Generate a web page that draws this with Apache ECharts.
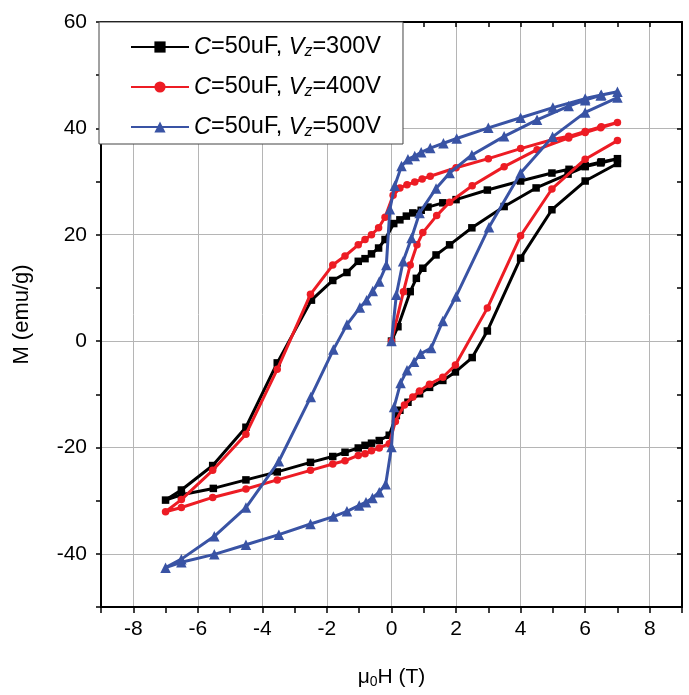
<!DOCTYPE html>
<html>
<head>
<meta charset="utf-8">
<script src="https://cdn.jsdelivr.net/npm/echarts@6/dist/echarts.min.js"></script>
<style>
html,body{margin:0;padding:0;background:#fff;}
#chart{width:689px;height:695px;}
</style>
</head>
<body>
<div id="chart"></div>
<script>
// Tick values / labels
const xTickLabels = [-8, -6, -4, -2, 0, 2, 4, 6, 8];
const yTickLabels = [-40, -20, 0, 20, 40, 60];
const voltages = ['300V', '400V', '500V'];

// C=50uF, Vz=300V  (virgin -> descending -> ascending), [H (T), M (emu/g)]
const data300 = [
  [0,0],[0.2,2.7],[0.58,9.3],[0.77,11.8],[0.97,13.7],[1.38,16.2],[1.8,18.1],[2.49,21.3],[3.49,25.3],[4.48,28.8],[5.47,31.4],[6.0,32.8],[6.48,33.5],[7.0,34.3],
  [6.5,33.7],[6.0,33.0],[5.5,32.3],[4.97,31.6],[4.0,30.1],[2.97,28.4],[2.0,26.6],[1.59,26.0],[1.13,25.2],[0.92,24.6],[0.66,24.1],[0.46,23.5],[0.26,22.8],[0.07,22.1],
  [-0.2,19.1],[-0.4,17.5],[-0.62,16.4],[-0.82,15.5],[-1.03,15.0],[-1.38,12.9],[-1.82,11.4],[-2.48,7.7],[-3.54,-4.1],[-4.51,-16.2],[-5.54,-23.4],[-6.51,-28.0],[-7.0,-29.9],
  [-6.51,-28.9],[-5.52,-27.7],[-4.51,-26.1],[-3.54,-24.6],[-2.51,-22.8],[-1.82,-21.7],[-1.44,-20.9],[-1.03,-20.1],[-0.82,-19.6],[-0.62,-19.2],[-0.38,-18.7],[-0.07,-17.7],
  [0.15,-14.0],[0.26,-13.0],[0.51,-11.5],[0.87,-9.9],[1.18,-8.7],[1.59,-7.4],[1.98,-5.8],[2.5,-3.1],[2.97,1.9],[4.0,15.6],[4.97,24.7],[6.0,30.1],[7.0,33.4]
];

// C=50uF, Vz=400V
const data400 = [
  [0,0],[0.37,9.3],[0.58,14.3],[0.79,18.1],[0.97,20.4],[1.4,23.6],[1.8,26.1],[2.5,29.2],[3.49,32.8],[4.51,36.0],[5.49,38.2],[6.0,39.2],[6.48,40.1],[7.0,41.1],
  [6.5,40.3],[6.0,39.4],[5.49,38.5],[5.0,37.9],[4.0,36.2],[3.0,34.3],[2.0,32.6],[1.2,31.0],[0.95,30.5],[0.72,29.9],[0.48,29.4],[0.26,28.8],[0.05,27.4],
  [-0.2,23.3],[-0.4,21.3],[-0.62,20.0],[-0.82,19.1],[-1.03,18.1],[-1.44,16.0],[-1.82,14.3],[-2.51,8.8],[-3.54,-5.3],[-4.51,-17.5],[-5.54,-24.3],[-6.51,-29.8],[-7.0,-32.1],
  [-6.51,-31.3],[-5.54,-29.4],[-4.51,-27.8],[-3.54,-26.1],[-2.51,-24.3],[-1.82,-23.1],[-1.44,-22.5],[-1.03,-21.5],[-0.82,-21.2],[-0.62,-20.6],[-0.38,-20.1],[-0.07,-19.3],
  [0.12,-15.1],[0.4,-12.0],[0.66,-10.5],[0.87,-9.4],[1.18,-8.1],[1.59,-6.8],[1.98,-4.5],[2.97,6.2],[4.0,19.8],[4.97,28.6],[6.0,34.2],[7.0,37.7]
];

// C=50uF, Vz=500V
const data500 = [
  [0,0],[0.15,8.7],[0.36,15.0],[0.62,19.4],[0.87,24.1],[1.38,28.7],[1.8,31.6],[2.49,35.0],[3.49,38.5],[4.51,41.6],[5.49,44.2],[6.0,45.3],[6.48,46.2],[7.0,46.9],
  [6.5,46.3],[6.0,45.6],[5.0,43.9],[4.0,42.0],[3.0,40.1],[2.02,38.1],[1.61,37.2],[1.2,36.3],[0.92,35.5],[0.72,34.8],[0.51,34.2],[0.31,32.9],[0.1,29.2],
  [-0.05,24.8],[-0.16,14.3],[-0.38,11.2],[-0.58,9.4],[-0.77,7.7],[-0.98,6.3],[-1.38,3.1],[-1.8,-1.6],[-2.5,-10.5],[-3.49,-22.6],[-4.51,-31.3],[-5.49,-36.7],[-6.51,-41.0],[-7.0,-42.6],
  [-6.51,-41.6],[-5.49,-40.1],[-4.51,-38.3],[-3.49,-36.4],[-2.51,-34.4],[-1.8,-33.0],[-1.38,-32.0],[-1.0,-30.9],[-0.79,-30.3],[-0.59,-29.5],[-0.38,-28.4],[-0.18,-26.9],
  [0.0,-19.9],[0.08,-12.4],[0.28,-7.9],[0.48,-5.5],[0.7,-3.9],[0.9,-2.4],[1.23,-1.3],[1.59,3.8],[2.0,8.4],[3.02,21.4],[4.0,31.6],[4.99,38.4],[6.0,43.0],[7.0,45.8]
];

const FONT = '"Liberation Sans", Arial, sans-serif';
const colors = ['#000000', '#ed1c24', '#3953a4'];
const symbols = ['rect', 'circle', 'triangle'];
const symbolSizes = [7.5, 7.5, 10.5];
const datasets = [data300, data400, data500];
const names = voltages.map(v => 'C=50uF, Vz=' + v);

const chart = echarts.init(document.getElementById('chart'), null, {renderer: 'canvas'});

const gridColor = ['rgba(0,0,0,0)', '#b5b5b5'];

const option = {
  animation: false,
  backgroundColor: '#ffffff',
  grid: {left: 101, right: 7, top: 22, bottom: 88, containLabel: false},
  legend: {
    orient: 'vertical',
    left: 99, top: 22,
    padding: [13, 22, 4, 31],
    itemGap: 15,
    itemWidth: 58,
    itemHeight: 14,
    borderColor: '#444',
    borderWidth: 1,
    backgroundColor: '#ffffff',
    data: names,
    formatter: function (name) {
      const v = voltages[names.indexOf(name)];
      return '{i|C}{n|=50uF, }{i|V}{s|z}{n|=' + v + '}';
    },
    textStyle: {
      fontFamily: FONT,
      fontSize: 23.5,
      color: '#000',
      rich: {
        n: {fontFamily: FONT, fontSize: 23.5, lineHeight: 26, color: '#000'},
        i: {fontFamily: FONT, fontSize: 23.5, fontStyle: 'italic', lineHeight: 26, color: '#000'},
        s: {fontFamily: FONT, fontSize: 16, fontStyle: 'italic', lineHeight: 8, verticalAlign: 'bottom', color: '#000'}
      }
    }
  },
  xAxis: [
    {
      type: 'value', min: -9, max: 9, interval: 1, position: 'bottom',
      name: '{n|μ}{s|0}{n|H (T)}',
      nameLocation: 'middle', nameGap: 58,
      nameTextStyle: {
        fontFamily: FONT, fontSize: 21, color: '#000',
        rich: {
          n: {fontFamily: FONT, fontSize: 21, lineHeight: 24, color: '#000'},
          s: {fontFamily: FONT, fontSize: 14, lineHeight: 8, verticalAlign: 'bottom', color: '#000'}
        }
      },
      axisLine: {show: true, onZero: false, lineStyle: {color: '#000', width: 2}},
      axisTick: {show: true, inside: false, length: 6, lineStyle: {color: '#000', width: 1.5}},
      axisLabel: {
        show: true, margin: 12, fontFamily: FONT, fontSize: 21, color: '#000',
        formatter: function (v) { return xTickLabels.indexOf(v) >= 0 ? String(v) : ''; }
      },
      splitLine: {show: true, lineStyle: {color: gridColor, width: 1}}
    },
    {
      type: 'value', min: -9, max: 9, interval: 1, position: 'top',
      axisLine: {show: true, onZero: false, lineStyle: {color: '#000', width: 2}},
      axisTick: {show: true, inside: true, length: 5, lineStyle: {color: '#000', width: 1.5}},
      axisLabel: {show: false},
      splitLine: {show: false}
    }
  ],
  yAxis: [
    {
      type: 'value', min: -50, max: 60, interval: 10, position: 'left',
      name: 'M (emu/g)', nameLocation: 'middle', nameGap: 68, nameRotate: 90,
      nameTextStyle: {fontFamily: FONT, fontSize: 22, color: '#000'},
      axisLine: {show: true, onZero: false, lineStyle: {color: '#000', width: 2}},
      axisTick: {show: true, inside: false, length: 5, lineStyle: {color: '#000', width: 1.5}},
      axisLabel: {
        show: true, margin: 14, fontFamily: FONT, fontSize: 21, color: '#000',
        formatter: function (v) { return yTickLabels.indexOf(v) >= 0 ? String(v) : ''; }
      },
      splitLine: {show: true, lineStyle: {color: gridColor, width: 1}}
    },
    {
      type: 'value', min: -50, max: 60, interval: 10, position: 'right',
      axisLine: {show: true, onZero: false, lineStyle: {color: '#000', width: 2}},
      axisTick: {show: true, inside: true, length: 5, lineStyle: {color: '#000', width: 1.5}},
      axisLabel: {show: false},
      splitLine: {show: false}
    }
  ],
  series: datasets.map((d, k) => ({
    name: names[k],
    type: 'line',
    xAxisIndex: 0, yAxisIndex: 0,
    data: d,
    showSymbol: true,
    symbol: symbols[k],
    symbolSize: symbolSizes[k],
    lineStyle: {color: colors[k], width: 3},
    itemStyle: {color: colors[k], borderWidth: 0},
    emphasis: {disabled: true},
    z: 3 + k
  }))
};
chart.setOption(option);
</script>
</body>
</html>
